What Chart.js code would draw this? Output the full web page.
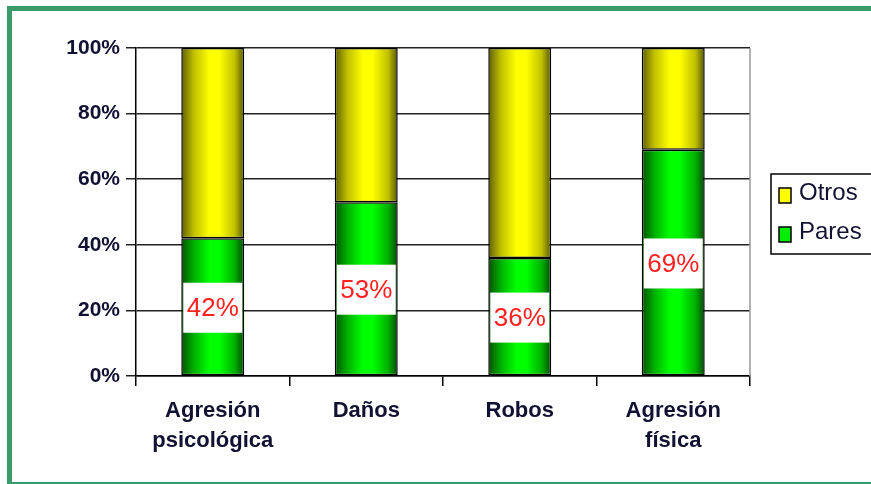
<!DOCTYPE html>
<html>
<head>
<meta charset="utf-8">
<script src="https://cdn.jsdelivr.net/npm/chart.js@4/dist/chart.umd.min.js"></script>
<style>
  html, body { margin: 0; padding: 0; background: #fff; overflow: hidden; }
  #frame {
    position: absolute; left: 7px; top: 6px; width: 900px; height: 471px;
    border: 5px solid #3a9a68;
  }
  #wrap { position: absolute; left: 0; top: 0; width: 871px; height: 484px; }
</style>
</head>
<body>
<div id="frame"></div>
<div id="wrap"><canvas id="chart" width="871" height="484"></canvas></div>
<script>
const categorias = [["Agresión", "psicológica"], "Daños", "Robos", ["Agresión", "física"]];
const pares = [42, 53, 36, 69];
const otros = [58, 47, 64, 31];
const ticksY = [0, 20, 40, 60, 80, 100];

const BAR_FRAC = 0.41;

// degradado horizontal: oscuro en los bordes, brillante en el centro
function barGradient(stops) {
  return (context) => {
    const chart = context.chart;
    const x = chart.scales.x;
    if (!chart.chartArea || !x) return stops[2];
    const center = x.getPixelForValue(context.dataIndex);
    const half = (x.width / categorias.length) * BAR_FRAC / 2;
    const g = chart.ctx.createLinearGradient(center - half, 0, center + half, 0);
    g.addColorStop(0, stops[0]);
    g.addColorStop(0.2, stops[1]);
    g.addColorStop(0.45, stops[2]);
    g.addColorStop(0.6, stops[2]);
    g.addColorStop(0.85, stops[1]);
    g.addColorStop(1, stops[3]);
    return g;
  };
}

const extras = {
  id: "extras",
  afterDatasetsDraw(chart) {
    const { ctx, chartArea } = chart;
    ctx.save();
    ctx.strokeStyle = "#999";
    ctx.lineWidth = 1.5;
    ctx.beginPath();
    ctx.moveTo(chartArea.right, chartArea.top);
    ctx.lineTo(chartArea.right, chartArea.bottom);
    ctx.stroke();

    // etiquetas de Pares
    const meta = chart.getDatasetMeta(0);
    meta.data.forEach((bar, i) => {
      const cy = (bar.y + bar.base) / 2;
      const w = bar.width - 4;
      ctx.fillStyle = "#fff";
      ctx.fillRect(bar.x - w / 2, cy - 24, w, 50);
      ctx.fillStyle = "#ff2020";
      ctx.font = "26px 'Liberation Sans', Arial, sans-serif";
      ctx.textAlign = "center";
      ctx.textBaseline = "middle";
      ctx.fillText(pares[i] + "%", bar.x, cy + 2);
    });

    // leyenda
    ctx.fillStyle = "#fff";
    ctx.fillRect(771, 174, 110, 80);
    ctx.strokeStyle = "#000";
    ctx.lineWidth = 1.5;
    ctx.strokeRect(771, 174, 110, 80);
    const items = [
      { label: chart.data.datasets[1].label, color: "#ffff00", y: 196 },
      { label: chart.data.datasets[0].label, color: "#00ee00", y: 235 },
    ];
    items.forEach((it) => {
      ctx.fillStyle = it.color;
      ctx.fillRect(779, it.y - 8, 12, 15);
      ctx.strokeStyle = "#000";
      ctx.lineWidth = 1.5;
      ctx.strokeRect(779, it.y - 8, 12, 15);
      ctx.fillStyle = "#111133";
      ctx.font = "24px 'Liberation Sans', Arial, sans-serif";
      ctx.textAlign = "left";
      ctx.textBaseline = "middle";
      ctx.fillText(it.label, 799, it.y - 3);
    });
    ctx.restore();
  },
};

new Chart(document.getElementById("chart"), {
  type: "bar",
  data: {
    labels: categorias,
    datasets: [
      {
        label: "Pares",
        data: pares,
        backgroundColor: barGradient(["#005200", "#00b000", "#00ff00", "#004a00"]),
        borderColor: "#000",
        borderWidth: 1.5,
        borderSkipped: false,
        barPercentage: BAR_FRAC,
        categoryPercentage: 1,
      },
      {
        label: "Otros",
        data: otros,
        backgroundColor: barGradient(["#5e5e00", "#c0c000", "#ffff00", "#555500"]),
        borderColor: "#000",
        borderWidth: 1.5,
        borderSkipped: false,
        barPercentage: BAR_FRAC,
        categoryPercentage: 1,
      },
    ],
  },
  options: {
    responsive: false,
    animation: false,
    layout: { padding: { top: 48, right: 121, left: 0, bottom: 0 } },
    plugins: { legend: { display: false }, tooltip: { enabled: false } },
    scales: {
      x: {
        stacked: true,
        afterFit: (scale) => { scale.height = 108; },
        grid: { drawOnChartArea: false, drawTicks: true, tickLength: 10, color: "#000", lineWidth: 1.5, offset: true },
        border: { color: "#000", width: 1.5 },
        ticks: {
          color: "#111133",
          padding: 10,
          font: { family: "'Liberation Sans', Arial, sans-serif", size: 22, weight: "bold", lineHeight: 1.36 },
          maxRotation: 0,
        },
      },
      y: {
        stacked: true,
        min: 0,
        max: 100,
        afterFit: (scale) => { scale.width = 136; },
        afterBuildTicks: (scale) => { scale.ticks = ticksY.map((v) => ({ value: v })); },
        grid: { color: "#222", lineWidth: 1.5, tickLength: 10 },
        border: { color: "#000", width: 1.5 },
        ticks: {
          color: "#111133",
          padding: 6,
          font: { family: "'Liberation Sans', Arial, sans-serif", size: 21, weight: "bold" },
          callback: (v) => v + "%",
        },
      },
    },
  },
  plugins: [extras],
});
</script>
</body>
</html>
